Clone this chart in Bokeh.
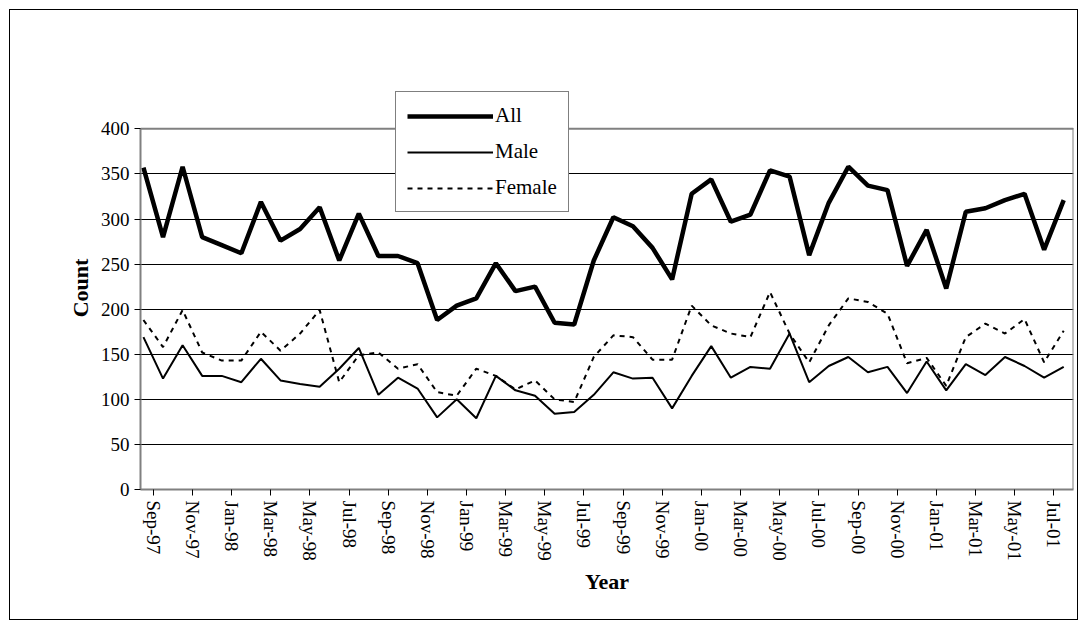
from bokeh.plotting import figure
from bokeh.models import FixedTicker, Legend, LegendItem, Range1d
from bokeh.embed import file_html
from bokeh.resources import INLINE
import math

months = ["Sep-97","Oct-97","Nov-97","Dec-97","Jan-98","Feb-98","Mar-98","Apr-98","May-98","Jun-98","Jul-98","Aug-98",
          "Sep-98","Oct-98","Nov-98","Dec-98","Jan-99","Feb-99","Mar-99","Apr-99","May-99","Jun-99","Jul-99","Aug-99",
          "Sep-99","Oct-99","Nov-99","Dec-99","Jan-00","Feb-00","Mar-00","Apr-00","May-00","Jun-00","Jul-00","Aug-00",
          "Sep-00","Oct-00","Nov-00","Dec-00","Jan-01","Feb-01","Mar-01","Apr-01","May-01","Jun-01","Jul-01","Aug-01"]
all_counts = [357,280,358,280,271,262,319,276,289,313,254,306,259,259,251,188,204,212,251,220,225,185,183,254,
              302,292,268,233,328,344,297,305,354,347,260,318,358,337,332,248,288,223,308,312,321,328,266,321]
male = [169,123,160,126,126,119,145,121,117,114,134,157,105,124,112,80,100,79,126,110,104,84,86,105,
        130,123,124,90,126,159,124,136,134,173,119,137,147,130,136,107,142,110,139,127,147,137,124,136]
female = [188,158,199,152,143,143,175,154,173,199,119,149,152,134,139,108,104,134,126,111,121,100,97,147,
          171,169,144,144,204,182,173,169,219,173,141,182,212,208,195,140,146,115,169,184,173,189,141,176]

x = list(range(len(months)))
FONT = "serif"
XMIN, XMAX, YTOP = -0.15, 47.5, 447

p = figure(width=1067, height=609, frame_width=933, frame_height=403,
           min_border_left=130, min_border_top=76, min_border_right=4, min_border_bottom=130,
           output_backend="svg", toolbar_location=None,
           x_range=Range1d(XMIN, XMAX), y_range=Range1d(0, YTOP),
           styles={"border": "1px solid black", "margin-left": "9px", "margin-top": "9px"})
p.outline_line_color = None

p.segment(x0=[XMIN, XMAX], y0=[400, 0], x1=[XMAX, XMAX], y1=[400, 400], line_color="#808080", line_width=2)

r_all = p.line(x, all_counts, line_color="black", line_width=4.5)
r_male = p.line(x, male, line_color="black", line_width=2)
r_fem = p.line(x, female, line_color="black", line_width=2, line_dash="5 5")

ticks = [i + 0.5 for i in range(0, 48, 2)]
p.xaxis.ticker = FixedTicker(ticks=ticks)
p.xaxis.major_label_overrides = {t: months[int(t - 0.5)] for t in ticks}
p.xaxis.major_label_orientation = -math.pi / 2
p.yaxis.ticker = FixedTicker(ticks=list(range(0, 401, 50)))
p.yaxis.bounds = (0, 400)
for ax in (p.xaxis[0], p.yaxis[0]):
    ax.major_label_text_font = FONT
    ax.major_label_text_font_size = "19px"
    ax.major_label_text_color = "black"
    ax.axis_label_text_font = FONT
    ax.axis_label_text_font_size = "22px"
    ax.axis_label_text_font_style = "bold"
    ax.axis_label_text_color = "black"
    ax.axis_line_color = "#808080"
    ax.axis_line_width = 2
    ax.major_tick_line_color = "black"
    ax.minor_tick_line_color = None
    ax.major_tick_in = 0
    ax.major_tick_out = 6
p.xaxis.axis_label = "Year"
p.yaxis.axis_label = "Count"
p.xgrid.grid_line_color = None
p.ygrid.grid_line_color = "black"
p.ygrid.grid_line_width = 1.2
p.ygrid.bounds = (0, 399)

legend = Legend(items=[LegendItem(label="All", renderers=[r_all]),
                       LegendItem(label="Male", renderers=[r_male]),
                       LegendItem(label="Female", renderers=[r_fem])],
                location=(255, 277), label_text_font=FONT, label_text_font_size="21px",
                label_text_color="black", label_standoff=2,
                border_line_color="black", border_line_width=1, glyph_width=86,
                spacing=11, padding=11, margin=0, background_fill_alpha=1)
p.add_layout(legend, "center")

open("out.html", "w").write(file_html(p, INLINE))
